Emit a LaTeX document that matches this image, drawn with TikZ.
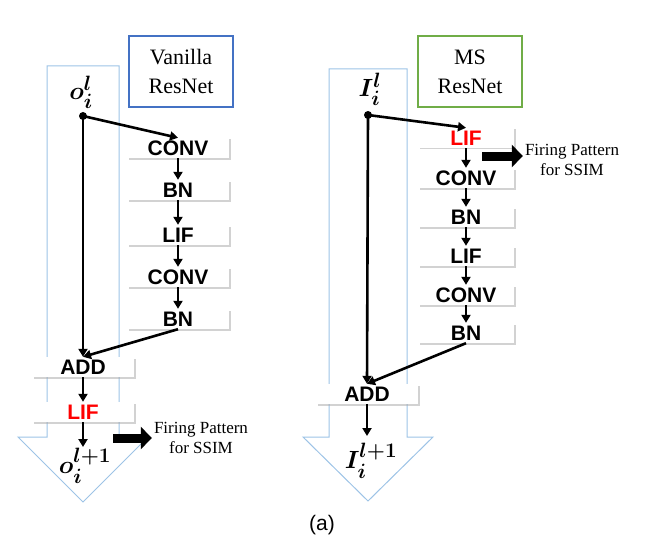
\documentclass[tikz,border=0pt]{standalone}
\usepackage{amsmath}
\usepackage{bm}
\usepackage{fontspec}
\setmainfont{Liberation Serif}
\setsansfont{Liberation Sans}
\usepackage{xcolor}
\usetikzlibrary{arrows.meta, positioning, shadows}

\definecolor{vanblue}{RGB}{68,114,196}
\definecolor{msgreen}{RGB}{112,173,71}
\definecolor{flowblue}{RGB}{157,195,230}

\begin{document}
\begin{tikzpicture}[x=1pt, y=-1pt,
  layer/.style={fill=white, drop shadow={shadow xshift=1.5pt, shadow yshift=-1.5pt, fill=black!35}, minimum width=102pt, minimum height=20pt, inner sep=0pt, text height=15pt, text depth=0pt, font=\fontsize{21}{21}\selectfont\sffamily\bfseries},
  title box/.style={draw, line width=2pt, minimum width=104pt, minimum height=71pt, align=center, font=\fontsize{22}{29}\selectfont},
  flow/.style={draw=flowblue, line width=1pt},
  var/.style={font=\fontsize{28}{30}\selectfont},
  fire/.style={align=center, inner sep=2pt, font=\fontsize{17}{20}\selectfont},
  arr/.style={-{Triangle[length=8pt, width=9pt]}, line width=2.6pt},
  fat/.style={-{Triangle[length=11pt, width=22pt]}, line width=9pt, black},
  dot/.style={circle, fill, inner sep=0pt, minimum size=8pt},
]
\useasboundingbox (0,0) rectangle (645,559);

% big arrows
\draw[flow] (47,66) -- (119,66) -- (119,437) -- (148,437) -- (83,502) -- (18,437) -- (47,437) -- cycle;
\draw[flow] (329,69) -- (407,69) -- (407,437) -- (433,437) -- (368,501) -- (303,437) -- (329,437) -- cycle;

% Vanilla ResNet
\node[title box, draw=vanblue] (vtitle) at (181,71.5) {Vanilla\\ResNet};
\node[var] (vin) at (81,92) {$\bm{o_i^l}$};
\node[dot] (vsplit) at (83,116) {};
\node[layer] (vconv1) at (178,148) {CONV};
\node[layer] (vbn1) at (178,190) {BN};
\node[layer] (vlif1) at (178,235) {LIF};
\node[layer] (vconv2) at (178,277) {CONV};
\node[layer] (vbn2) at (178,319) {BN};
\node[layer] (vadd) at (83,367) {ADD};
\node[layer, text=red] (vlif2) at (83,412) {LIF};
\node[var] (vout) at (85,466) {$\bm{o_i^{l+1}}$};
\node[fire] (vfire) at (201,438) {Firing Pattern\\for SSIM};
\coordinate (vfat) at (113,438);

\draw[arr] (vsplit.center) -- (vconv1.north);
\draw[arr] (vconv1) -- (vbn1);
\draw[arr] (vbn1) -- (vlif1);
\draw[arr] (vlif1) -- (vconv2);
\draw[arr] (vconv2) -- (vbn2);
\draw[arr] (vbn2.south) -- (vadd.north);
\draw[arr] (vsplit.center) -- (vadd.north);
\draw[arr] (vadd) -- (vlif2);
\draw[arr] (vlif2.south) -- (83,447);
\draw[fat] (vfat) -- (vfat -| vfire.west);

% MS ResNet
\node[title box, draw=msgreen] (mtitle) at (470,71.5) {MS\\ResNet};
\node[var, font=\fontsize{31}{32}\selectfont] (min) at (370,89) {$\bm{I_i^l}$};
\node[dot] (msplit) at (368,115) {};
\node[layer, minimum width=96pt, text=red] (mlif1) at (466,138) {LIF};
\node[layer, minimum width=96pt] (mconv1) at (466,178) {CONV};
\node[layer, minimum width=96pt] (mbn1) at (466,217) {BN};
\node[layer, minimum width=96pt] (mlif2) at (466,256) {LIF};
\node[layer, minimum width=96pt] (mconv2) at (466,295) {CONV};
\node[layer, minimum width=96pt] (mbn2) at (466,333) {BN};
\node[layer] (madd) at (367,394) {ADD};
\node[var, font=\fontsize{31}{32}\selectfont] (mout) at (371,461) {$\bm{I_i^{l+1}}$};
\node[fire] (mfire) at (572,160) {Firing Pattern\\for SSIM};
\coordinate (mfat) at (482,156);

\draw[arr] (msplit.center) -- (mlif1.north);
\draw[arr] (mlif1) -- (mconv1);
\draw[arr] (mconv1) -- (mbn1);
\draw[arr] (mbn1) -- (mlif2);
\draw[arr] (mlif2) -- (mconv2);
\draw[arr] (mconv2) -- (mbn2);
\draw[arr] (mbn2.south) -- (madd.north);
\draw[arr] (msplit.center) -- (madd.north);
\draw[arr] (madd.south) -- (367,436);
\draw[fat] (mfat) -- (mfat -| mfire.west);

% caption
\node[font=\fontsize{21}{22}\selectfont\sffamily] (cap) at (322,525) {(a)};

\end{tikzpicture}
\end{document}
